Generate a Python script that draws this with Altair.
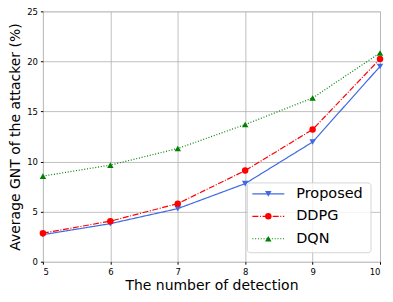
import altair as alt
import pandas as pd

detections = [5, 6, 7, 8, 9, 10]
proposed = [2.7, 3.8, 5.3, 7.8, 11.95, 19.5]
ddpg = [2.85, 4.05, 5.8, 9.1, 13.2, 20.25]
dqn = [8.55, 9.65, 11.3, 13.7, 16.35, 20.85]
series_names = ["Proposed", "DDPG", "DQN"]
colors = ["#4169E1", "#FF0000", "#008000"]
shapes = ["triangle-down", "circle", "triangle-up"]
dashes = [[1, 0], [6, 1.6, 1, 1.6], [1, 1.8]]

rows = []
for name, vals in zip(series_names, [proposed, ddpg, dqn]):
    for x, v in zip(detections, vals):
        rows.append({"x": x, "y": v, "series": name})
df = pd.DataFrame(rows)

W, H = 338, 251
font = "DejaVu Sans"

xs = alt.X("x:Q", scale=alt.Scale(domain=[5, 10], nice=False),
           axis=alt.Axis(values=detections, title="The number of detection", format="d",
                         labelFontSize=8.5, titleFontSize=14, titleFontWeight="normal",
                         tickSize=2.5, labelPadding=3, titlePadding=3, gridColor="#b0b0b0",
                         gridWidth=0.8, domain=False, tickColor="black", labelColor="black",
                         titleColor="black", labelFont=font, titleFont=font))
ys = alt.Y("y:Q", scale=alt.Scale(domain=[0, 25], nice=False),
           axis=alt.Axis(values=[0, 5, 10, 15, 20, 25], title="Average GNT of the attacker (%)",
                         labelFontSize=8.5, titleFontSize=14, titleFontWeight="normal",
                         tickSize=2.5, labelPadding=3, titlePadding=4, gridColor="#b0b0b0",
                         gridWidth=0.8, domain=False, tickColor="black", labelColor="black",
                         titleColor="black", labelFont=font, titleFont=font))

layers = []
for name, c, s, d in zip(series_names, colors, shapes, dashes):
    sub = df[df.series == name]
    base = alt.Chart(sub)
    layers.append(base.mark_line(color=c, strokeWidth=1.2, strokeDash=d).encode(x=xs, y=ys))
    layers.append(base.mark_point(color=c, fill=c, filled=True, shape=s, size=42, opacity=1).encode(x=xs, y=ys))

# legend
leg_rows = []
for i, name in enumerate(series_names):
    leg_rows.append({"series": name, "py": 183 + i * 22.5})
leg = pd.DataFrame(leg_rows)

legend_box = alt.Chart(leg.head(1)).mark_rect(
    fill="white", fillOpacity=0.8, stroke="#cccccc", strokeWidth=0.8, cornerRadius=3
).encode(x=alt.value(205), x2=alt.value(329), y=alt.value(172), y2=alt.value(242))
layers.append(legend_box)
for i, (name, c, s, d) in enumerate(zip(series_names, colors, shapes, dashes)):
    sub = leg[leg.series == name]
    b = alt.Chart(sub)
    layers.append(b.mark_rule(color=c, strokeWidth=1.2, strokeDash=d).encode(
        x=alt.value(210), x2=alt.value(242), y=alt.Y("py:Q", scale=None)))
    layers.append(b.mark_point(color=c, fill=c, filled=True, shape=s, size=42, opacity=1).encode(
        x=alt.value(226), y=alt.Y("py:Q", scale=None)))
    layers.append(b.mark_text(align="left", baseline="middle", fontSize=14.5, font=font, color="black").encode(
        x=alt.value(254), y=alt.Y("py:Q", scale=None), text="series:N"))

chart = alt.layer(*layers).properties(
    width=W, height=H, autosize=alt.AutoSizeParams(type="none"),
    padding={"left": 35, "top": 3, "right": 5, "bottom": 32}
).configure_view(stroke="black", strokeWidth=0.8).configure(background="white")

chart.save("out.html", embed_options={"renderer": "svg", "actions": False})
